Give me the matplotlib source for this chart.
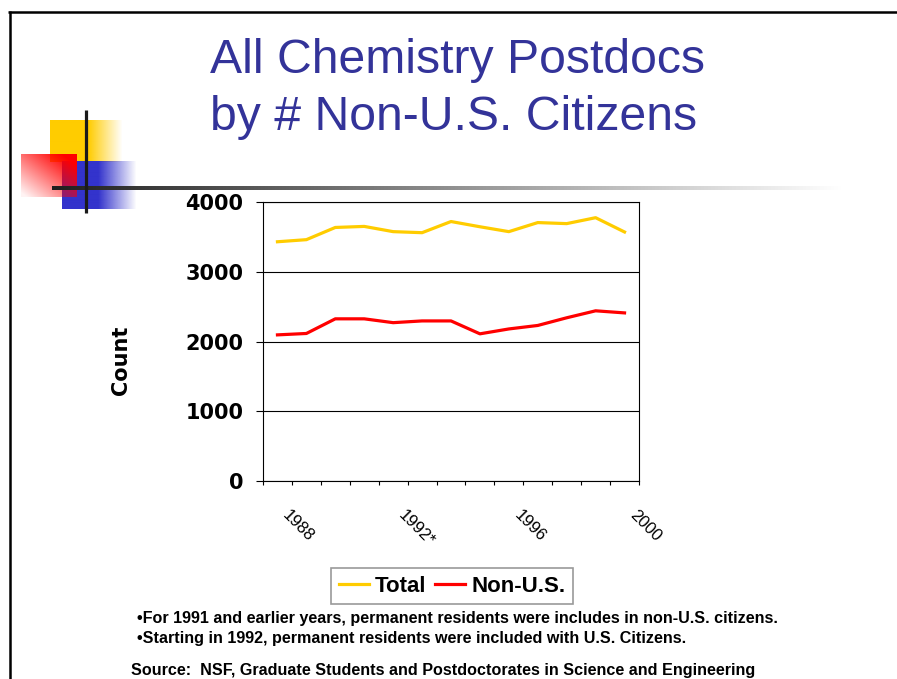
import numpy as np
import matplotlib
matplotlib.use('Agg')
import matplotlib.pyplot as plt
from matplotlib import transforms
from matplotlib.lines import Line2D
from matplotlib.font_manager import FontProperties
from matplotlib.colors import to_rgb

# ---------------- data ----------------
years = ['1988', '1989', '1990', '1991', '1992*', '1993', '1994',
         '1995', '1996', '1997', '1998', '1999', '2000']
total = [3430, 3460, 3635, 3650, 3575, 3560, 3720, 3645, 3575, 3705, 3690, 3775, 3570]
non_us = [2095, 2115, 2325, 2325, 2270, 2295, 2295, 2110, 2180, 2230, 2340, 2440, 2410]
shown_labels = ['1988', '1992*', '1996', '2000']
yticks = [0, 1000, 2000, 3000, 4000]
series_names = ['Total', 'Non-U.S.']
series_colors = ['#FFCC00', '#FF0000']
title_lines = ['All Chemistry Postdocs', 'by # Non-U.S. Citizens']
notes = ['\u2022For 1991 and earlier years, permanent residents were includes in non-U.S. citizens.',
         '\u2022Starting in 1992, permanent residents were included with U.S. Citizens.']
source = 'Source:  NSF, Graduate Students and Postdoctorates in Science and Engineering'

W, H = 897, 679
fig = plt.figure(figsize=(W / 100, H / 100), dpi=100)
fig.patch.set_facecolor('white')

# ---------------- background decoration (pixel coords) ----------------
bg = fig.add_axes([0, 0, 1, 1], zorder=0)
bg.set_xlim(0, W)
bg.set_ylim(H, 0)
bg.axis('off')


def hfade(color, x0, x1, xs, y0, y1, z):
    """solid from x0 to xs, then fading to transparent at x1"""
    n = int(x1 - x0)
    xs_rel = np.arange(n) + x0
    alpha = np.clip(1 - (xs_rel - xs) / (x1 - xs), 0, 1)
    img = np.zeros((1, n, 4))
    img[..., :3] = to_rgb(color)
    img[..., 3] = alpha
    bg.imshow(img, extent=[x0, x1, y1, y0], origin='upper', aspect='auto',
              interpolation='bilinear', zorder=z)


hfade('#FFCC00', 50, 122, 88, 120, 162, 1)
hfade('#3333CC', 62, 136, 98, 161, 209, 2)

# red diagonal gradient square
rh, rw = 43, 56
rr, cc = np.mgrid[0:rh, 0:rw]
u = (cc / (rw - 1) + (1 - rr / (rh - 1))) / 2
red = np.zeros((rh, rw, 4))
red[..., 0] = 1.0
red[..., 3] = np.clip(u * 1.15, 0.05, 1)
bg.imshow(red, extent=[21, 77, 197, 154], origin='upper', aspect='auto',
          interpolation='bilinear', zorder=3)

# gradient horizontal rule
n = 790
ramp = np.linspace(0.12, 1.0, n)
line_img = np.zeros((1, n, 3))
line_img[..., 0] = ramp
line_img[..., 1] = ramp
line_img[..., 2] = ramp
bg.imshow(line_img, extent=[52, 52 + n, 190.5, 187.0], origin='upper', aspect='auto',
          interpolation='bilinear', zorder=4)
bg.plot([86, 86], [110, 213], color='#1a1a1a', lw=2.3, solid_capstyle='butt', zorder=5)

# slide frame
bg.plot([8, W], [12, 12], color='black', lw=1.8, solid_capstyle='butt', zorder=5)
bg.plot([9.5, 9.5], [11, H], color='black', lw=1.8, solid_capstyle='butt', zorder=5)

# ---------------- title ----------------
tfont = dict(family='Liberation Sans', size=34.7, color='#333399')
fig.text(210 / W, 1 - 73 / H, title_lines[0], ha='left', va='baseline', **tfont)
fig.text(210 / W, 1 - 130 / H, title_lines[1], ha='left', va='baseline', **tfont)

# ---------------- chart ----------------
ax = fig.add_axes([263 / W, (H - 481) / H, 376 / W, 279 / H], zorder=2)
ax.set_facecolor('white')
x = np.arange(len(years))
ax.plot(x, total, color=series_colors[0], lw=2.3, zorder=3)
ax.plot(x, non_us, color=series_colors[1], lw=2.3, zorder=3)
ax.set_xlim(-0.5, len(years) - 0.5)
ax.set_ylim(yticks[0], yticks[-1])
ax.set_yticks(yticks)
ax.set_yticklabels([str(v) for v in yticks], fontfamily='DejaVu Sans',
                   fontweight='bold', fontsize=15)
ax.tick_params(axis='y', length=5, width=0.8, pad=9)
ax.set_xticks(np.arange(-0.5, len(years), 1))
ax.set_xticklabels([])
ax.tick_params(axis='x', length=3, width=0.8)
ax.yaxis.grid(True, color='black', lw=0.8)
ax.set_axisbelow(True)
for s in ax.spines.values():
    s.set_color('black')
    s.set_linewidth(0.8)

trans = ax.get_xaxis_transform() + transforms.ScaledTranslation(13 / 100, -27 / 100,
                                                                  fig.dpi_scale_trans)
for lab in shown_labels:
    i = years.index(lab)
    ax.text(x[i], 0, lab, transform=trans, rotation=-45, rotation_mode='anchor',
            ha='left', va='top', fontfamily='Liberation Sans', fontsize=12)

fig.text(121 / W, 1 - 360 / H, 'Count', rotation=90, ha='center', va='center',
         fontfamily='DejaVu Sans', fontweight='bold', fontsize=15)

# ---------------- legend ----------------
handles = [Line2D([], [], color=c, lw=2.3) for c in series_colors]
leg = fig.legend(handles, series_names, loc='center',
                 bbox_to_anchor=(452 / W, 1 - 586 / H), ncol=2, frameon=True,
                 fancybox=False, edgecolor='#808080',
                 prop=FontProperties(family='Liberation Sans', weight='bold', size=16),
                 handlelength=1.35, handletextpad=0.27, columnspacing=0.4,
                 borderpad=0.35)
leg.get_frame().set_linewidth(1.2)

# ---------------- notes ----------------
nfont = dict(family='Liberation Sans', weight='bold', size=11.6, color='black')
fig.text(137 / W, 1 - 618 / H, notes[0], ha='left', va='center', **nfont)
fig.text(137 / W, 1 - 639 / H, notes[1], ha='left', va='center', **nfont)
fig.text(131 / W, 1 - 671 / H, source, ha='left', va='center', **nfont)

fig.savefig('out.png', dpi=100, facecolor='white')
